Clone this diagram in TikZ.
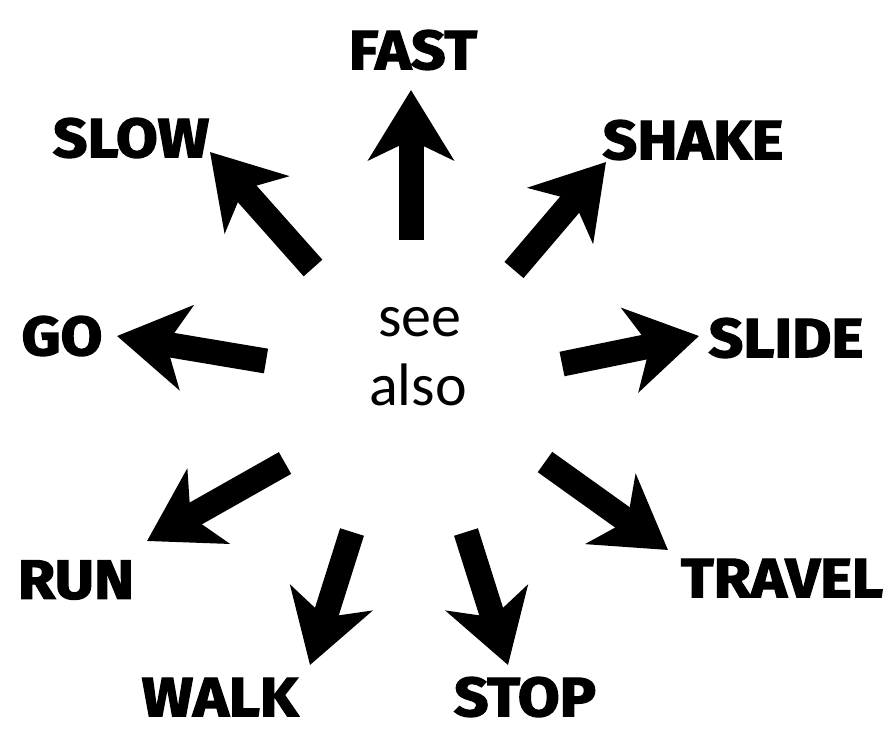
\documentclass[tikz,border=0pt]{standalone}
\usepackage{fontspec}
\setmainfont{Fira Sans}[BoldFont=Fira Sans Bold, BoldFeatures={FakeBold=2.5, FakeStretch=1.1}]
\newfontfamily\seefont{Carlito}
\usetikzlibrary{arrows.meta}
\tikzset{
  bigarrow/.style={line width=25pt, line cap=butt,
    -{Stealth[length=70pt,width=85pt,inset=20pt]}},
  word/.style={font=\fontsize{55}{58}\selectfont\bfseries, inner sep=0pt},
  seeword/.style={font=\seefont\fontsize{60}{64}\selectfont, inner sep=0pt}
}
\begin{document}
\begin{tikzpicture}[x=1pt,y=-1pt]
\useasboundingbox[fill=white] (0,0) rectangle (891,729);
% labels
\node[word] (fast)   at (413,50)  {FAST};
\node[word] (slow)   at (131,138) {SLOW};
\node[word] (shake)  at (693,140) {SHAKE};
\node[word] (go)     at (62,336)  {GO};
\node[word] (slide)  at (786,338) {SLIDE};
\node[word] (run)    at (76,580)  {RUN};
\node[word] (travel) at (782,578) {TRAVEL};
\node[word] (walk)   at (220,697) {WALK};
\node[word] (stop)   at (525,697) {STOP};
\node[seeword] (see)  at (420,322) {see};
\node[seeword] (also) at (418,385) {also};
% arrow ends
\coordinate (fastA) at (411,240); \coordinate (fastB) at (411,90);
\coordinate (shakeA) at (514,270); \coordinate (shakeB) at (606,162);
\coordinate (slowA) at (313,268); \coordinate (slowB) at (210,152);
\coordinate (goA) at (266,361); \coordinate (goB) at (117,336);
\coordinate (slideA) at (562,364); \coordinate (slideB) at (699,336);
\coordinate (runA) at (285,463); \coordinate (runB) at (147,541);
\coordinate (travelA) at (545,462); \coordinate (travelB) at (668,550);
\coordinate (walkA) at (352,532); \coordinate (walkB) at (310,665);
\coordinate (stopA) at (466,532); \coordinate (stopB) at (508,665);
\foreach \n in {fast,shake,slow,go,slide,run,travel,walk,stop}
  \draw[bigarrow] (\n A) -- (\n B);
\end{tikzpicture}
\end{document}
